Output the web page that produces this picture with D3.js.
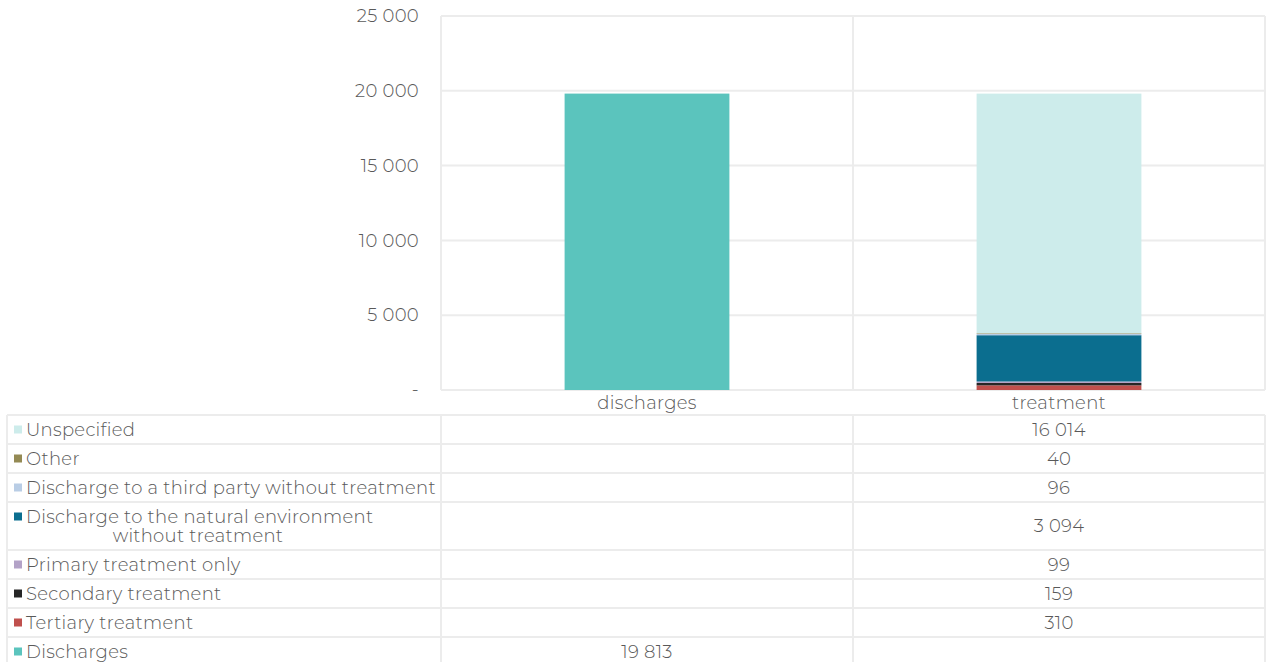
<!DOCTYPE html>
<html>
<head>
<meta charset="utf-8">
<script src="https://cdn.jsdelivr.net/npm/d3@7"></script>
<style>
  body { margin: 0; background: #fff; }
  text { font-family: "Montserrat", Lato, "Open Sans", sans-serif; font-weight: 300; fill: #595959; letter-spacing: 0.3px; }
</style>
</head>
<body>
<div id="chart"></div>
<script>
const categories = ["discharges", "treatment"];
// stack order, bottom first
const seriesNames = ["Discharges", "Tertiary treatment", "Secondary treatment", "Primary treatment only",
  "Discharge to the natural environment\nwithout treatment", "Discharge to a third party without treatment",
  "Other", "Unspecified"];
const seriesColors = ["#5bc4bd", "#c0504d", "#262626", "#b3a2c7", "#0b6e8f", "#b9cde5", "#948a54", "#cdeceb"];
const dischargesValues = [19813, null, null, null, null, null, null, null];
const treatmentValues = [null, 310, 159, 99, 3094, 96, 40, 16014];
const yTicks = [0, 5000, 10000, 15000, 20000, 25000];

const W = 1270, H = 662;
const plot = { left: 441, right: 1265, top: 16, bottom: 390 };
const fs = 18;

const svg = d3.select("#chart").append("svg")
  .attr("width", W).attr("height", H);

const x = d3.scaleBand().domain(categories).range([plot.left, plot.right]).paddingInner(0).paddingOuter(0);
const y = d3.scaleLinear().domain([0, 25000]).range([plot.bottom, plot.top]);

const fmt = v => v === 0 ? "-" : d3.format(",")(v).replace(/,/g, " ");
const gridColor = "#ececec";

// horizontal gridlines
svg.append("g").selectAll("line").data(yTicks).join("line")
  .attr("x1", plot.left).attr("x2", plot.right)
  .attr("y1", d => y(d)).attr("y2", d => y(d))
  .attr("stroke", gridColor).attr("stroke-width", 2);

// vertical gridlines at category boundaries
const bounds = [plot.left, ...categories.map(c => x(c) + x.bandwidth())];
svg.append("g").selectAll("line").data(bounds).join("line")
  .attr("x1", d => d).attr("x2", d => d)
  .attr("y1", plot.top).attr("y2", plot.bottom)
  .attr("stroke", gridColor).attr("stroke-width", 2);

// y axis labels
const yAxis = svg.append("g").attr("transform", `translate(${plot.left - 22},0)`)
  .call(d3.axisLeft(y).tickValues(yTicks).tickFormat(fmt).tickSize(0));
yAxis.select(".domain").remove();
yAxis.selectAll("text").attr("x", 0).attr("fill", "#595959")
  .style("font-family", null).style("font-size", fs + "px")
  .attr("font-family", null).attr("font-size", null);
yAxis.attr("font-family", null).attr("font-size", null);

// stacked bars
const rows = categories.map((c, i) => {
  const vals = i === 0 ? dischargesValues : treatmentValues;
  const o = { cat: c };
  seriesNames.forEach((s, j) => o[s] = vals[j] || 0);
  return o;
});
const stack = d3.stack().keys(seriesNames)(rows);
const barW = x.bandwidth() * 0.4;
svg.append("g").selectAll("g").data(stack).join("g")
  .attr("fill", (d, i) => seriesColors[i])
  .selectAll("rect").data(d => d.filter(p => p[1] > p[0])).join("rect")
  .attr("x", d => x(d.data.cat) + (x.bandwidth() - barW) / 2)
  .attr("width", barW)
  .attr("y", d => y(d[1]))
  .attr("height", d => y(d[0]) - y(d[1]));

// category labels
svg.append("g").selectAll("text").data(categories).join("text")
  .attr("x", d => x(d) + x.bandwidth() / 2).attr("y", 409)
  .attr("text-anchor", "middle").attr("font-size", fs).text(d => d);

// data table (top row = last series)
const tableRows = seriesNames.map((s, j) => ({ name: s, color: seriesColors[j], vals: [dischargesValues[j], treatmentValues[j]] })).reverse();
const rowHeights = tableRows.map(r => r.name.includes("\n") ? 48 : 29);
let yy = 415;
const table = svg.append("g");
const tableLeft = 7;
table.append("line").attr("x1", tableLeft).attr("x2", plot.right).attr("y1", yy).attr("y2", yy)
  .attr("stroke", gridColor).attr("stroke-width", 2);
tableRows.forEach((r, i) => {
  const h = rowHeights[i];
  const cy = yy + h / 2;
  const lines = r.name.split("\n");
  const g = table.append("g");
  g.append("rect").attr("x", 14).attr("y", (lines.length > 1 ? yy + 14.5 : cy) - 4)
    .attr("width", 8).attr("height", 8).attr("fill", r.color);
  if (lines.length === 1) {
    g.append("text").attr("x", 26).attr("y", cy).attr("dy", "0.35em")
      .attr("font-size", fs).text(r.name);
  } else {
    g.append("text").attr("x", 26).attr("y", yy + 14.5).attr("dy", "0.35em")
      .attr("font-size", fs).text(lines[0]);
    g.append("text").attr("x", 198).attr("y", yy + 34).attr("dy", "0.35em")
      .attr("text-anchor", "middle").attr("font-size", fs).text(lines[1]);
  }
  r.vals.forEach((v, k) => {
    if (v == null) return;
    g.append("text").attr("x", x(categories[k]) + x.bandwidth() / 2).attr("y", cy).attr("dy", "0.35em")
      .attr("text-anchor", "middle").attr("font-size", fs).text(fmt(v));
  });
  yy += h;
  table.append("line").attr("x1", tableLeft).attr("x2", plot.right).attr("y1", yy).attr("y2", yy)
    .attr("stroke", gridColor).attr("stroke-width", 2);
});
// table vertical lines
[tableLeft, ...bounds].forEach(bx => {
  table.append("line").attr("x1", bx).attr("x2", bx).attr("y1", 415).attr("y2", yy)
    .attr("stroke", gridColor).attr("stroke-width", 2);
});
</script>
</body>
</html>
